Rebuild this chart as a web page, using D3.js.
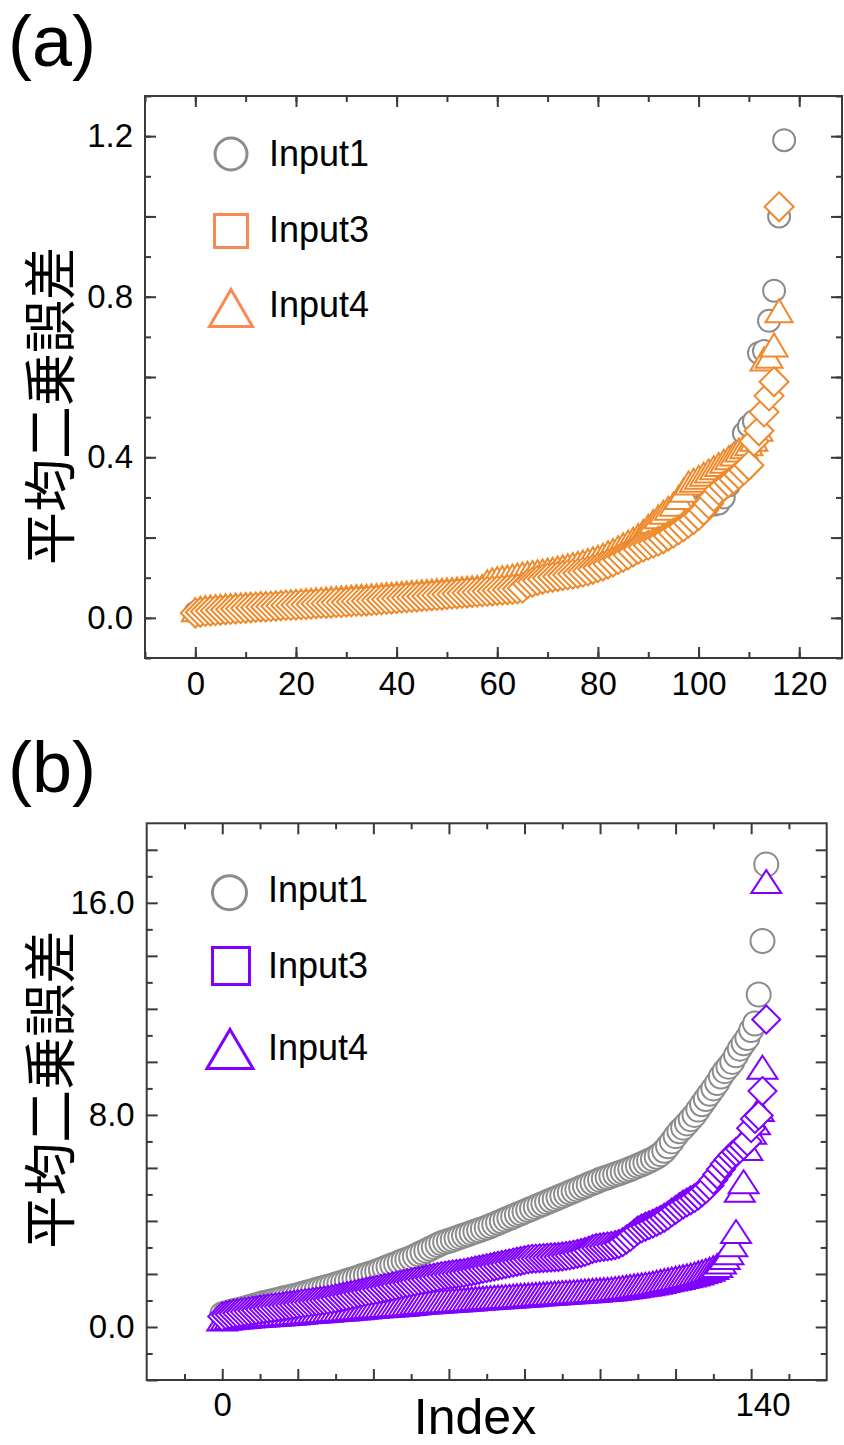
<!DOCTYPE html>
<html><head><meta charset="utf-8">
<script src="https://cdn.jsdelivr.net/npm/d3@7"></script>
<style>body{margin:0;background:#fff}svg{display:block}</style>
</head><body>
<svg id="c" width="844" height="1445"></svg>
<script>
// ---------- DATA (panel a) ----------
const seriesNames = ["Input1", "Input3", "Input4"];
const aInput1 = [
0.013,0.016,0.018,0.020,0.021,0.022,0.023,0.024,0.025,0.026,
0.027,0.028,0.029,0.030,0.031,0.032,0.033,0.034,0.034,0.035,
0.036,0.037,0.038,0.039,0.040,0.041,0.041,0.042,0.043,0.044,
0.045,0.046,0.047,0.048,0.048,0.049,0.050,0.051,0.052,0.053,
0.054,0.055,0.056,0.057,0.058,0.059,0.060,0.061,0.062,0.063,
0.064,0.065,0.066,0.067,0.068,0.069,0.070,0.071,0.073,0.076,
0.079,0.082,0.085,0.088,0.091,0.094,0.097,0.100,0.103,0.106,
0.109,0.112,0.115,0.118,0.121,0.124,0.127,0.131,0.135,0.139,
0.143,0.148,0.153,0.159,0.165,0.171,0.178,0.185,0.192,0.200,
0.208,0.216,0.225,0.234,0.244,0.255,0.262,0.266,0.270,0.273,
0.276,0.278,0.280,0.282,0.285,0.300,0.330,0.365,0.410,0.460,
0.478,0.490,0.660,0.665,0.740,0.815,1.000,1.190];
const aInput3 = [
0.012,0.014,0.016,0.017,0.018,0.019,0.020,0.021,0.022,0.023,
0.024,0.025,0.026,0.027,0.027,0.028,0.029,0.030,0.031,0.031,
0.032,0.033,0.033,0.034,0.035,0.036,0.036,0.037,0.038,0.038,
0.039,0.040,0.041,0.041,0.042,0.043,0.044,0.045,0.046,0.047,
0.048,0.049,0.050,0.051,0.052,0.053,0.054,0.055,0.056,0.057,
0.058,0.059,0.060,0.061,0.062,0.063,0.064,0.065,0.066,0.067,
0.068,0.069,0.070,0.071,0.072,0.074,0.085,0.089,0.093,0.096,
0.099,0.101,0.103,0.105,0.107,0.109,0.111,0.114,0.117,0.121,
0.125,0.129,0.134,0.139,0.145,0.151,0.157,0.164,0.171,0.176,
0.181,0.186,0.191,0.197,0.204,0.211,0.219,0.227,0.236,0.245,
0.255,0.268,0.284,0.302,0.318,0.328,0.337,0.346,0.357,0.368,
0.380,0.440,0.466,0.513,0.553,0.588,1.024];
const aInput4 = [
0.020,0.024,0.026,0.027,0.028,0.029,0.030,0.031,0.032,0.032,
0.033,0.034,0.034,0.035,0.036,0.036,0.037,0.038,0.039,0.040,
0.041,0.042,0.043,0.044,0.045,0.046,0.047,0.048,0.049,0.050,
0.051,0.052,0.053,0.054,0.054,0.055,0.056,0.057,0.058,0.059,
0.060,0.061,0.062,0.063,0.064,0.065,0.066,0.067,0.068,0.069,
0.070,0.071,0.072,0.073,0.074,0.075,0.076,0.078,0.090,0.095,
0.098,0.100,0.102,0.104,0.107,0.109,0.111,0.113,0.115,0.117,
0.119,0.121,0.124,0.127,0.130,0.133,0.136,0.139,0.143,0.147,
0.151,0.156,0.162,0.168,0.175,0.182,0.189,0.196,0.205,0.215,
0.228,0.240,0.252,0.263,0.273,0.283,0.300,0.318,0.336,0.343,
0.350,0.358,0.366,0.374,0.382,0.390,0.399,0.408,0.418,0.426,
0.434,0.445,0.470,0.645,0.652,0.680,0.765];
const aXTicks = [0, 20, 40, 60, 80, 100, 120];
const aXTickLabels = ["0", "20", "40", "60", "80", "100", "120"];
const aYTicks = [0.0, 0.4, 0.8, 1.2];

// ---------- DATA (panel b) ----------
const bInput1 = [
0.48,0.52,0.56,0.60,0.63,0.66,0.70,0.74,0.78,0.82,
0.86,0.90,0.93,0.96,1.00,1.03,1.07,1.10,1.13,1.17,
1.20,1.24,1.28,1.32,1.36,1.40,1.44,1.48,1.52,1.56,
1.60,1.64,1.69,1.73,1.78,1.82,1.87,1.92,1.96,2.01,
2.05,2.10,2.16,2.22,2.27,2.33,2.38,2.44,2.50,2.55,
2.60,2.67,2.74,2.81,2.88,2.95,3.02,3.09,3.16,3.21,
3.25,3.30,3.35,3.40,3.45,3.50,3.55,3.60,3.65,3.70,
3.75,3.81,3.87,3.93,3.99,4.05,4.11,4.17,4.23,4.29,
4.35,4.41,4.47,4.53,4.59,4.65,4.71,4.77,4.83,4.89,
4.95,5.01,5.07,5.13,5.19,5.25,5.31,5.37,5.43,5.49,
5.55,5.60,5.65,5.70,5.75,5.80,5.85,5.90,5.96,6.02,
6.08,6.14,6.20,6.27,6.34,6.42,6.52,6.65,6.82,7.00,
7.20,7.38,7.52,7.68,7.84,8.00,8.20,8.40,8.60,8.80,
9.00,9.20,9.45,9.65,9.82,10.00,10.25,10.50,10.70,10.90,
11.20,11.45,12.54,14.56,17.45];
const bInput3 = [
0.40,0.44,0.47,0.50,0.52,0.55,0.57,0.59,0.61,0.63,
0.66,0.68,0.70,0.72,0.74,0.76,0.78,0.80,0.82,0.84,
0.86,0.88,0.90,0.92,0.94,0.96,0.98,1.00,1.02,1.05,
1.08,1.11,1.14,1.17,1.20,1.23,1.26,1.29,1.32,1.35,
1.38,1.41,1.44,1.47,1.50,1.53,1.56,1.59,1.62,1.65,
1.68,1.71,1.74,1.77,1.80,1.83,1.86,1.89,1.92,1.94,
1.96,1.98,2.00,2.02,2.04,2.07,2.10,2.13,2.16,2.19,
2.22,2.25,2.28,2.31,2.34,2.37,2.40,2.43,2.46,2.49,
2.52,2.55,2.57,2.58,2.59,2.60,2.61,2.62,2.63,2.64,
2.66,2.68,2.70,2.73,2.76,2.79,2.83,2.88,2.94,2.98,
3.00,3.02,3.04,3.06,3.09,3.13,3.20,3.30,3.40,3.52,
3.64,3.72,3.78,3.84,3.90,3.97,4.04,4.12,4.21,4.32,
4.42,4.52,4.62,4.70,4.78,4.86,4.96,5.08,5.20,5.34,
5.55,5.75,5.95,6.15,6.32,6.48,6.60,6.72,6.85,7.00,
7.50,7.85,7.98,8.90,11.60];
const bInput4 = [
0.30,0.33,0.35,0.37,0.38,0.39,0.40,0.41,0.42,0.43,
0.44,0.45,0.46,0.47,0.48,0.49,0.50,0.51,0.52,0.53,
0.55,0.56,0.57,0.58,0.59,0.60,0.61,0.62,0.63,0.65,
0.66,0.67,0.68,0.69,0.71,0.72,0.73,0.74,0.75,0.77,
0.78,0.79,0.80,0.81,0.82,0.83,0.84,0.85,0.86,0.88,
0.89,0.90,0.92,0.93,0.94,0.95,0.96,0.97,0.98,0.99,
1.00,1.01,1.02,1.03,1.04,1.05,1.06,1.07,1.08,1.09,
1.10,1.11,1.12,1.13,1.14,1.15,1.16,1.17,1.18,1.19,
1.20,1.21,1.22,1.23,1.24,1.25,1.26,1.27,1.28,1.29,
1.30,1.31,1.32,1.33,1.34,1.35,1.36,1.37,1.38,1.39,
1.40,1.41,1.42,1.43,1.45,1.47,1.49,1.51,1.53,1.55,
1.57,1.59,1.61,1.63,1.66,1.69,1.72,1.75,1.78,1.81,
1.84,1.87,1.90,1.93,1.96,2.00,2.04,2.08,2.13,2.18,
2.24,2.32,2.45,2.62,2.80,3.10,3.60,5.16,5.48,6.73,
7.35,7.70,8.20,9.80,16.80];
// tick label positions on the index axis of panel (b), and their texts
const bXTicks = [0, 143];
const bXTickLabels = ["0", "140"];
const bYTicks = [0.0, 8.0, 16.0];

const yTitle = "平均二乗誤差";
const xTitleB = "Index";

// ---------- STYLE ----------
const FONT = "'Liberation Sans', Arial, sans-serif";
const CJK = "'Noto Sans CJK JP', 'Noto Sans CJK SC', sans-serif";
const GRAY = "#8c8c8c";
const ORANGE = "#ef8a2c", ORANGE_L = "#f98a55";
const PURPLE = "#7f00ff";
const svg = d3.select("#c");

function markerPath(kind, s) {
  if (kind === "circle") {
    const r = s.r;
    return `M${-r},0A${r},${r} 0 1,0 ${r},0A${r},${r} 0 1,0 ${-r},0Z`;
  }
  if (kind === "diamond") {
    const h = s.d;
    return `M0,${-h}L${h},0L0,${h}L${-h},0Z`;
  }
  if (kind === "square") {
    const h = s.sq;
    return `M${-h},${-h}L${h},${-h}L${h},${h}L${-h},${h}Z`;
  }
  return `M0,${-s.th}L${s.tw},${s.th}L${-s.tw},${s.th}Z`;
}

function panel(cfg) {
  const g = svg.append("g");
  const x = d3.scaleLinear().domain(cfg.xDomain).range([cfg.left, cfg.right]);
  const y = d3.scaleLinear().domain(cfg.yDomain).range([cfg.bottom, cfg.top]);

  cfg.series.forEach(s => {
    g.append("g").selectAll("path").data(s.values).join("path")
      .attr("transform", (v, i) => `translate(${x(i)},${y(v)})`)
      .attr("d", markerPath(s.kind, cfg.msize))
      .attr("fill", "#fff")
      .attr("stroke", s.color)
      .attr("stroke-width", 2);
  });

  g.append("rect").attr("x", cfg.left).attr("y", cfg.top)
    .attr("width", cfg.right - cfg.left).attr("height", cfg.bottom - cfg.top)
    .attr("fill", "none").attr("stroke", "#3a3a3a").attr("stroke-width", 2);

  const axStyle = sel => {
    sel.select(".domain").remove();
    sel.selectAll("line").attr("stroke", "#3a3a3a").attr("stroke-width", 2);
    sel.selectAll("text").attr("font-family", FONT).attr("font-size", 33).attr("fill", "#000");
  };
  const MAJ = 11, MIN = 6;
  const ticks = (axisFn, pos, tr, vals, size) =>
    g.append("g").attr("transform", tr)
      .call(axisFn(pos).tickValues(vals).tickSize(-size).tickFormat(""))
      .call(axStyle);
  const trB = `translate(0,${cfg.bottom})`, trT = `translate(0,${cfg.top})`;
  const trL = `translate(${cfg.left},0)`, trR = `translate(${cfg.right},0)`;
  ticks(d3.axisBottom, x, trB, cfg.xMinor, MIN);
  ticks(d3.axisBottom, x, trB, cfg.xMajor, MAJ);
  ticks(d3.axisTop, x, trT, cfg.xMinor, MIN);
  ticks(d3.axisTop, x, trT, cfg.xMajor, MAJ);
  ticks(d3.axisLeft, y, trL, cfg.yMinor, MIN);
  ticks(d3.axisLeft, y, trL, cfg.yMajor, MAJ);
  ticks(d3.axisRight, y, trR, cfg.yMinor, MIN);
  ticks(d3.axisRight, y, trR, cfg.yMajor, MAJ);

  g.append("g").attr("transform", trB)
    .call(d3.axisBottom(x).tickValues(cfg.xLabelVals).tickSize(0).tickPadding(cfg.xPad)
      .tickFormat((d, i) => cfg.xLabelText[i]))
    .call(axStyle);
  g.append("g").attr("transform", trL)
    .call(d3.axisLeft(y).tickValues(cfg.yLabelVals).tickSize(0).tickPadding(12)
      .tickFormat(d3.format(".1f")))
    .call(axStyle);

  cfg.legend.forEach((L, k) => {
    g.append("path").attr("transform", `translate(${L.cx},${L.cy})`)
      .attr("d", markerPath(L.kind, cfg.lsize))
      .attr("fill", "none").attr("stroke", L.color).attr("stroke-width", 3);
    g.append("text").attr("x", cfg.ltx).attr("y", L.base)
      .attr("font-family", FONT).attr("font-size", 36).attr("fill", "#000")
      .text(seriesNames[k]);
  });

  g.append("text")
    .attr("transform", `translate(${cfg.ytX},${(cfg.top + cfg.bottom) / 2 + cfg.ytDY}) rotate(-90)`)
    .attr("text-anchor", "middle").attr("dominant-baseline", "central")
    .attr("font-family", CJK).attr("font-size", 53).attr("fill", "#000")
    .text(yTitle);

  g.append("text").attr("x", 8).attr("y", cfg.tagY)
    .attr("font-family", FONT).attr("font-size", 72).attr("fill", "#000")
    .text(cfg.tag);

  if (cfg.xTitle) {
    g.append("text").attr("x", cfg.xTitleX).attr("y", cfg.xTitleY)
      .attr("text-anchor", "middle")
      .attr("font-family", FONT).attr("font-size", 50).attr("fill", "#000")
      .text(cfg.xTitle);
  }
}

panel({
  left: 145, right: 842, top: 96, bottom: 658,
  xDomain: [-10, 128.5], yDomain: [-0.1, 1.3],
  xMinor: d3.range(-10, 129, 10), xMajor: aXTicks,
  xLabelVals: aXTicks, xLabelText: aXTickLabels, xPad: 14,
  yMinor: d3.range(-0.1, 1.31, 0.1), yMajor: d3.range(0, 1.21, 0.2), yLabelVals: aYTicks,
  series: [
    {values: aInput1, kind: "circle", color: GRAY},
    {values: aInput4, kind: "triangle", color: ORANGE},
    {values: aInput3, kind: "diamond", color: ORANGE}
  ],
  msize: {r: 11, d: 14.5, tw: 13.5, th: 11.5},
  lsize: {r: 16, sq: 16.5, tw: 21.5, th: 18.5},
  legend: [
    {kind: "circle", cx: 231, cy: 154, base: 166, color: GRAY},
    {kind: "square", cx: 231, cy: 231, base: 242, color: ORANGE_L},
    {kind: "triangle", cx: 231, cy: 308, base: 317, color: ORANGE_L}
  ],
  ltx: 269, ytX: 47, ytDY: 29, tag: "(a)", tagY: 66
});

panel({
  left: 146.7, right: 826.7, top: 823.3, bottom: 1380,
  xDomain: [-20, 160], yDomain: [-2, 19],
  xMinor: d3.range(-10, 160, 20), xMajor: d3.range(0, 160, 20),
  xLabelVals: bXTicks, xLabelText: bXTickLabels, xPad: 13,
  yMinor: d3.range(-1, 19, 2), yMajor: d3.range(-2, 19, 2), yLabelVals: bYTicks,
  series: [
    {values: bInput1, kind: "circle", color: GRAY},
    {values: bInput4, kind: "triangle", color: PURPLE},
    {values: bInput3, kind: "diamond", color: PURPLE}
  ],
  msize: {r: 12, d: 14, tw: 15, th: 11.5},
  lsize: {r: 17, sq: 18.5, tw: 23, th: 19.5},
  legend: [
    {kind: "circle", cx: 229.5, cy: 892.7, base: 902, color: GRAY},
    {kind: "square", cx: 231, cy: 966, base: 978, color: PURPLE},
    {kind: "triangle", cx: 230, cy: 1049, base: 1060, color: PURPLE}
  ],
  ltx: 268, ytX: 47, ytDY: -12, tag: "(b)", tagY: 792,
  xTitle: xTitleB, xTitleX: 475, xTitleY: 1434
});
</script>
</body></html>
